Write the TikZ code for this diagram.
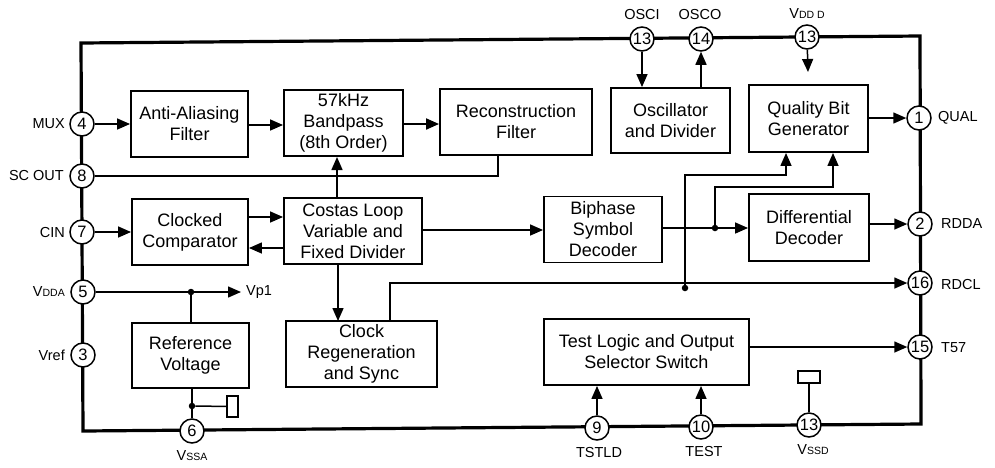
\documentclass[tikz,border=0pt]{standalone}
\usepackage{fontspec}
\setmainfont{Liberation Sans}
\usetikzlibrary{arrows.meta}
\newcommand{\smc}[1]{{\fontsize{10.5}{12}\selectfont #1}}
\tikzset{
  x=1pt,y=-1pt,
  blk/.style={draw,line width=1.9pt,fill=white,align=center,inner sep=0pt,font=\fontsize{18}{21}\selectfont},
  pin/.style={draw,circle,line width=1.5pt,fill=white,minimum size=24pt,inner sep=0pt,font=\fontsize{16.5}{18}\selectfont},
  lab/.style={inner sep=0pt,font=\fontsize{14.5}{16}\selectfont},
  wire/.style={line width=1.5pt},
  arr/.style={wire,-{Triangle[length=13pt,width=11pt]}},
  dotn/.style={circle,fill=black,inner sep=0pt,minimum size=6.5pt},
  pad/.style={draw,line width=1.4pt,fill=white,inner sep=0pt},
}
\begin{document}
\begin{tikzpicture}[line join=miter]
\useasboundingbox (0,0) rectangle (995,467);
% package outline
\coordinate (fa) at (81,43);
\coordinate (fb) at (920,36);
\coordinate (fc) at (921,424);
\coordinate (fd) at (83,431);
\draw[line width=3.2pt] (fa) -- (fb) -- (fc) -- (fd) -- cycle;
% blocks
\node[blk,minimum width=117pt,minimum height=66pt] (aa) at (189.5,124) {Anti-Aliasing\\Filter};
\node[blk,minimum width=119pt,minimum height=66pt] (bp) at (343.5,123) {57kHz\\Bandpass\\(8th Order)};
\node[blk,minimum width=152pt,minimum height=66pt] (rf) at (516,122) {Reconstruction\\Filter};
\node[blk,minimum width=119pt,minimum height=65pt] (os) at (670.5,120.5) {Oscillator\\and Divider};
\node[blk,minimum width=119pt,minimum height=67pt] (qb) at (808.5,118.5) {Quality Bit\\Generator};
\node[blk,minimum width=116pt,minimum height=66pt] (cc) at (190,232) {Clocked\\Comparator};
\node[blk,minimum width=138pt,minimum height=66pt] (cl) at (353,231) {Costas Loop\\Variable and\\Fixed Divider};
\node[blk,minimum width=118pt,minimum height=66pt] (bs) at (603,229.5) {Biphase\\Symbol\\Decoder};
\node[blk,minimum width=120pt,minimum height=67pt] (dd) at (809,227.5) {Differential\\Decoder};
\node[blk,minimum width=151pt,minimum height=66pt] (cr) at (361.5,354) {Clock\\Regeneration\\and Sync};
\node[blk,minimum width=117pt,minimum height=65pt] (rv) at (190.5,355.5) {Reference\\Voltage};
\node[blk,minimum width=205pt,minimum height=66pt] (tl) at (646.5,352) {Test Logic and Output\\Selector Switch};
% pins
\node[pin] (p4) at (82,124) {4};
\node[pin] (p8) at (82,176) {8};
\node[pin] (p7) at (82,232) {7};
\node[pin] (p5) at (83,292) {5};
\node[pin] (p3) at (83,355) {3};
\node[pin] (p6) at (192,431) {6};
\node[pin] (p9) at (597,428) {9};
\node[pin] (p10) at (701,427) {10};
\node[pin] (p13c) at (809,425) {13};
\node[pin] (p15) at (920,347) {15};
\node[pin] (p16) at (920,283) {16};
\node[pin] (p2) at (920,224) {2};
\node[pin] (p1) at (919,118) {1};
\node[pin] (p13a) at (642,39) {13};
\node[pin] (p14) at (701,39) {14};
\node[pin] (p13b) at (807,37) {13};
% labels
\node[lab,anchor=east] (l4) at (65,124) {MUX};
\node[lab,anchor=east] (l8) at (64,176) {SC OUT};
\node[lab,anchor=east] (l7) at (65,232) {CIN};
\node[lab,anchor=east] (l5) at (65,292) {V\smc{DDA}};
\node[lab,anchor=east] (l3) at (65,355) {Vref};
\node[lab] (l6) at (192,456) {V\smc{SSA}};
\node[lab] (l9) at (599,452) {TSTLD};
\node[lab] (l10) at (704,451) {TEST};
\node[lab] (l13c) at (813,450) {V\smc{SSD}};
\node[lab,anchor=west] (l15) at (941,348) {T57};
\node[lab,anchor=west] (l16) at (941,284) {RDCL};
\node[lab,anchor=west] (l2) at (941,224) {RDDA};
\node[lab,anchor=west] (l1) at (938,118) {QUAL};
\node[lab] (l13a) at (642,15) {OSCI};
\node[lab] (l14) at (700,15) {OSCO};
\node[lab] (l13b) at (807,14) {V\smc{DD D}};
\node[lab,anchor=west] (vp) at (246,292) {Vp1};
% junctions
\node[dotn] (j1) at (191,292) {};
\node[dotn] (j2) at (192,406) {};
\node[dotn] (j3) at (715,228) {};
\node[dotn] (j4) at (685,288) {};
\node[pad,minimum width=11pt,minimum height=21pt] (padl) at (232.5,406.5) {};
\node[pad,minimum width=22pt,minimum height=12pt] (padr) at (809,377) {};
\coordinate (vpend) at (241,292);
\coordinate (vddend) at (808,72);
% connectors
\draw[arr] (p4) -- (aa.west |- p4);
\draw[arr] (aa.east |- 0,125) -- (bp.west |- 0,125);
\draw[arr,line width=2pt] (bp.east |- 0,124) -- (rf.west |- 0,124);
\draw[wire] (rf.south -| 498,0) |- (p8);
\draw[arr] (337,198) -- (337,157);
\draw[arr] (cc.east |- 0,217) -- (cl.west |- 0,217);
\draw[arr] (cl.west |- 0,248) -- (cc.east |- 0,248);
\draw[arr] (p7) -- (cc.west |- p7);
\draw[arr] (cl.east |- 0,230) -- (bs.west |- 0,230);
\draw[arr] (bs.east |- j3) -- (dd.west |- j3);
\draw[arr] (j3) |- (833,187) -- (qb.south -| 833,0);
\draw[arr] (j4) |- (786,175) -- (qb.south -| 786,0);
\draw[arr] (dd.east |- p2) -- (p2);
\draw[arr] (qb.east |- p1) -- (p1);
\draw[arr] (cr.north -| 390,0) |- (p16);
\draw[arr] (338,264) -- (338,321);
\draw[arr] (p5) -- (vpend);
\draw[wire] (j1) -- (rv.north -| j1);
\draw[wire] (rv.south -| j2) -- (p6);
\draw[wire] (j2) -- (padl);
\draw[arr] (tl.east |- p15) -- (p15);
\draw[arr] (p9) -- (tl.south -| p9);
\draw[arr] (p10) -- (tl.south -| p10);
\draw[wire] (p13c) -- (padr.south -| p13c);
\draw[arr] (p13a) -- (os.north -| p13a);
\draw[arr] (os.north -| p14) -- (p14);
\draw[arr] (p13b) -- (vddend);
\end{tikzpicture}
\end{document}
